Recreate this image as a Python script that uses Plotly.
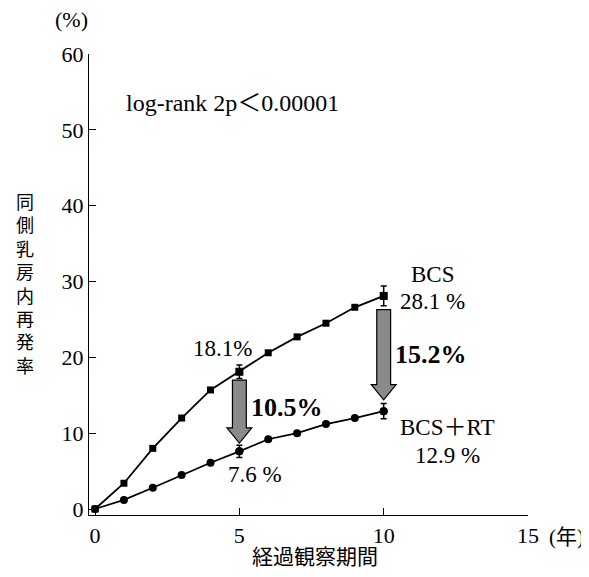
import plotly.graph_objects as go

years = [0, 1, 2, 3, 4, 5, 6, 7, 8, 9, 10]
bcs = [0, 3.4, 8.0, 12.0, 15.7, 18.1, 20.6, 22.7, 24.5, 26.6, 28.1]
bcs_rt = [0, 1.2, 2.8, 4.5, 6.1, 7.6, 9.2, 10.0, 11.2, 12.0, 12.9]
err_years = [5, 10]
bcs_err = [0.9, 1.3]
bcs_rt_err = [0.8, 1.0]
diff_labels = ["10.5%", "15.2%"]
x_ticks = [0, 5, 10, 15]
y_ticks = [0, 10, 20, 30, 40, 50, 60]
y_title = "同側乳房内再発率"
x_title = "経過観察期間"

SERIF = "Liberation Serif, Noto Sans CJK JP"
CJK = "Noto Sans CJK JP"

fig = go.Figure()

shapes = []
for yr, gap_top, gap_tip in [(5, 1.1, 1.1), (10, 1.8, 1.5)]:
    i = years.index(yr)
    ytop = bcs[i] - gap_top
    ytip = bcs_rt[i] + gap_tip
    yhead = ytip + 2.0
    sw, hw = 0.24, 0.43
    path = (f"M {yr-sw},{ytop} L {yr+sw},{ytop} L {yr+sw},{yhead} L {yr+hw},{yhead} "
            f"L {yr},{ytip} L {yr-hw},{yhead} L {yr-sw},{yhead} Z")
    shapes.append(dict(type="path", path=path, xref="x", yref="y",
                       fillcolor="#8a8a8a", line=dict(color="black", width=1.2),
                       layer="above"))

fig.add_trace(go.Scatter(x=years, y=bcs, mode="lines+markers",
                         line=dict(color="black", width=1.8),
                         marker=dict(symbol="square", size=7, color="black"),
                         showlegend=False, name="BCS"))
fig.add_trace(go.Scatter(x=years, y=bcs_rt, mode="lines+markers",
                         line=dict(color="black", width=1.8),
                         marker=dict(symbol="circle", size=8, color="black"),
                         showlegend=False, name="BCS+RT"))

fig.add_trace(go.Scatter(x=err_years, y=[bcs[years.index(v)] for v in err_years],
                         mode="markers", marker=dict(size=8, symbol="square", color="black"),
                         error_y=dict(type="data", array=bcs_err, color="black", thickness=1.5, width=3),
                         showlegend=False, hoverinfo="skip"))
fig.add_trace(go.Scatter(x=err_years, y=[bcs_rt[years.index(v)] for v in err_years],
                         mode="markers", marker=dict(size=8, color="black"),
                         error_y=dict(type="data", array=bcs_rt_err, color="black", thickness=1.5, width=3),
                         showlegend=False, hoverinfo="skip"))

ann = []
def txt(x, y, t, size=23, bold=False, xref="x", yref="y", family=SERIF):
    if bold:
        t = f"<b>{t}</b>"
    ann.append(dict(x=x, y=y, xref=xref, yref=yref, text=t, showarrow=False,
                    font=dict(family=family, size=size, color="black"),
                    xanchor="center", yanchor="middle"))

txt(4.75, 53.5, "log-rank 2p＜0.00001", size=24)
txt(4.4, 21.2, f"{bcs[5]}%", size=23)
txt(5.55, 4.5, f"{bcs_rt[5]} %", size=23)
txt(6.65, 13.4, diff_labels[0], size=26, bold=True)
txt(11.7, 30.9, "BCS", size=23)
txt(11.7, 27.4, f"{bcs[10]} %", size=23)
txt(11.65, 20.4, diff_labels[1], size=26, bold=True)
txt(12.2, 10.8, "BCS＋RT", size=23)
txt(12.2, 7.1, f"{bcs_rt[10]} %", size=23)

# plot area spans page pixels x 89..528, y 54..515
def px(xp, yp):
    return (xp - 89) / 439, (515 - yp) / 461

x, y = px(71, 20)
txt(x, y, "(%)", size=22, xref="paper", yref="paper")
x, y = px(566, 537)
txt(x, y, "(年)", size=21, xref="paper", yref="paper")
x, y = px(315, 555)
txt(x, y, x_title, size=21, xref="paper", yref="paper", family=CJK)
x, y = px(25, 283)
txt(x, y, "<br>".join(y_title), size=18, xref="paper", yref="paper", family=CJK)

fig.update_layout(
    width=581, height=569,
    margin=dict(l=81, r=61, t=46, b=62),
    plot_bgcolor="white", paper_bgcolor="white",
    shapes=shapes, annotations=ann,
    xaxis=dict(range=[-0.21, 15], tickvals=x_ticks, ticks="inside", ticklen=7,
               tickcolor="black", showline=True, linecolor="black", linewidth=1.3,
               showgrid=False, zeroline=False,
               tickfont=dict(family=SERIF, size=22, color="black")),
    yaxis=dict(range=[-0.79, 60], tickvals=y_ticks, ticks="inside", ticklen=7,
               tickcolor="black", showline=True, linecolor="black", linewidth=1.3,
               showgrid=False, zeroline=False,
               tickfont=dict(family=SERIF, size=22, color="black")),
)

fig.write_html("out.html")
